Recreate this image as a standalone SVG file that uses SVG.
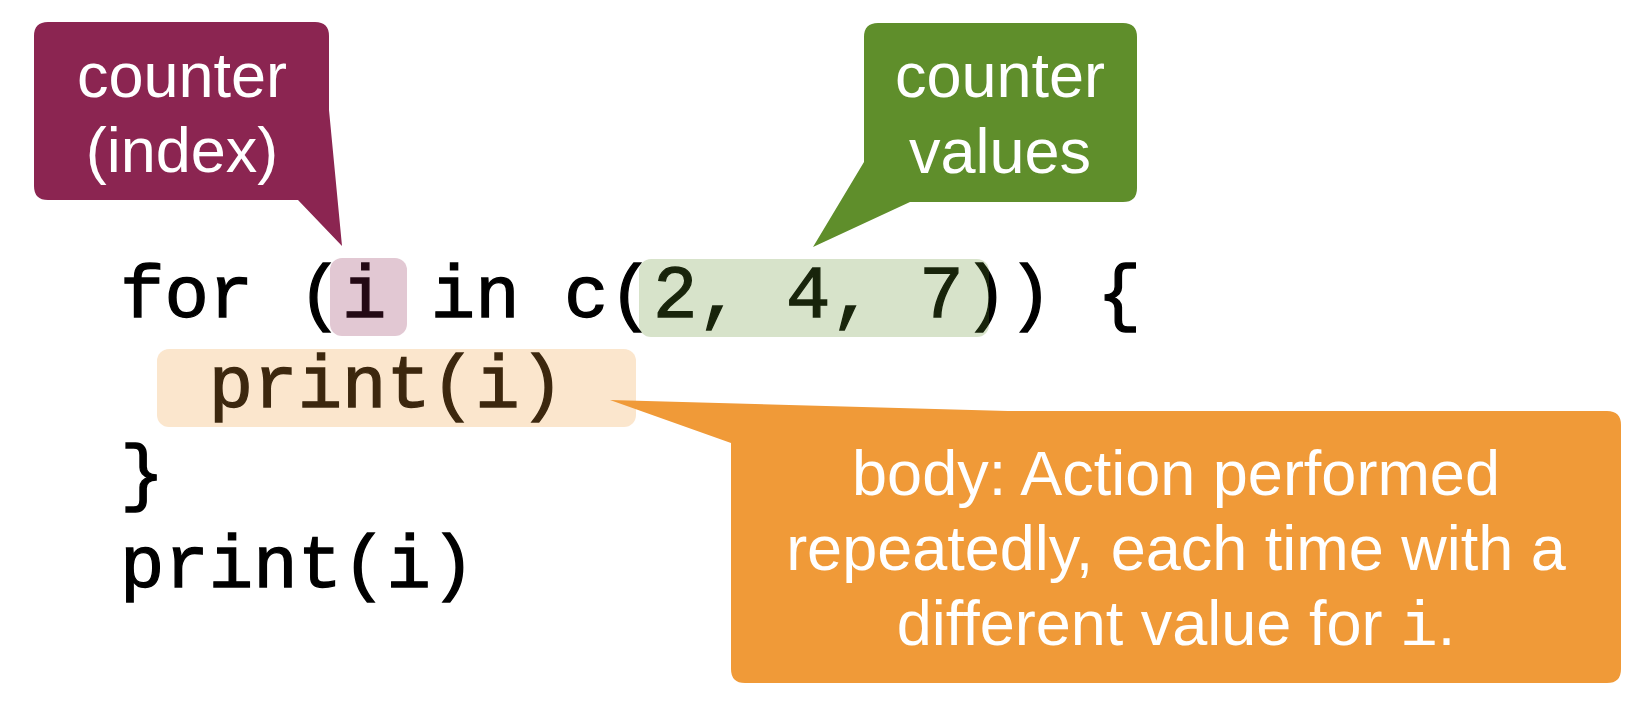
<svg xmlns="http://www.w3.org/2000/svg" width="1636" height="706" viewBox="0 0 1636 706">
<style>
.code{font-family:"Liberation Mono","Courier New",monospace;font-size:74px;fill:#000;stroke:#000;stroke-width:1.3px;white-space:pre}
.lbl{font-family:"Liberation Sans",Arial,Helvetica,sans-serif;font-size:63px;fill:#fff;text-anchor:middle}
.mono{font-family:"Liberation Mono","Courier New",monospace}
.hl{fill-opacity:0.25}
</style>
<rect width="1636" height="706" fill="#fff"/>
<g id="code">
<text class="code" x="120" y="317" xml:space="preserve">for (i in c(2, 4, 7)) {</text>
<text class="code" x="120" y="407" xml:space="preserve">  print(i)</text>
<text class="code" x="120" y="497">}</text>
<text class="code" x="120" y="587">print(i)</text>
</g>
<g id="highlights">
<rect id="hl-index" class="hl" x="330" y="258" width="77" height="78" rx="12" fill="#8b2551"/>
<rect id="hl-values" class="hl" x="639" y="259" width="350" height="78" rx="12" fill="#5f8e2b"/>
<rect id="hl-body" class="hl" x="157" y="349" width="479" height="78" rx="12" fill="#f09a38"/>
</g>
<g id="callout-counter">
<path d="M48,22 H315 Q329,22 329,36 V110 L342,246 L298,200 H48 Q34,200 34,186 V36 Q34,22 48,22 Z" fill="#8b2551"/>
<text class="lbl" x="182" y="97">counter</text>
<text class="lbl" x="182" y="172">(index)</text>
</g>
<g id="callout-values">
<path d="M878,23 H1123 Q1137,23 1137,37 V188 Q1137,202 1123,202 H910 L813,247 L864,162 V37 Q864,23 878,23 Z" fill="#5f8e2b"/>
<text class="lbl" x="1000" y="97">counter</text>
<text class="lbl" x="1000" y="173">values</text>
</g>
<g id="callout-body">
<path d="M610,400 L1008,411 H1607 Q1621,411 1621,425 V669 Q1621,683 1607,683 H745 Q731,683 731,669 V443 Z" fill="#f09a38"/>
<text class="lbl" x="1176" y="495">body: Action performed</text>
<text class="lbl" x="1176" y="570">repeatedly, each time with a</text>
<text class="lbl" x="1176" y="645">different value for <tspan class="mono">i</tspan>.</text>
</g>
<g id="connectors"/>
</svg>
